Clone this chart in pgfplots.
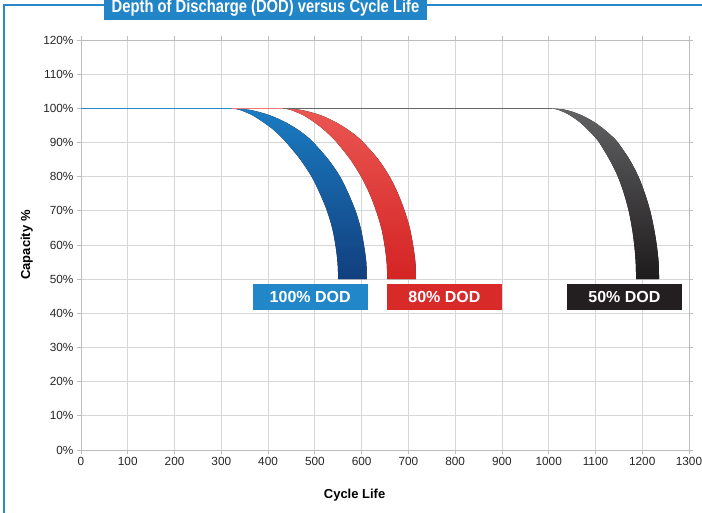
\documentclass[border=0pt]{standalone}
\usepackage{pgfplots}
\pgfplotsset{compat=1.18}
\usepgfplotslibrary{fillbetween}
\usepackage{fontspec}
\setmainfont{Liberation Sans}
\definecolor{frameblue}{HTML}{2A87C8}
\definecolor{titleblue}{HTML}{2185C8}
\definecolor{bluetop}{HTML}{1A7CC2}
\definecolor{bluebot}{HTML}{123F7E}
\definecolor{redtop}{HTML}{EA5652}
\definecolor{redbot}{HTML}{D42424}
\definecolor{blktop}{HTML}{626264}
\definecolor{blkbot}{HTML}{1E1B1C}
\definecolor{boxblue}{HTML}{2187C9}
\definecolor{boxred}{HTML}{D92A2A}
\definecolor{boxblk}{HTML}{231F20}
\definecolor{gridgray}{HTML}{D6D6D6}
\definecolor{axisgray}{HTML}{BDBDBD}
\begin{document}
\begin{tikzpicture}[x=1pt,y=1pt]
% frame and title
\draw[frameblue, line width=1.3pt] (-77,-70) -- (-77,445) -- (640,445);
\fill[titleblue] (23,429.7) rectangle (346,460);
\node[anchor=base, text=white, font=\bfseries\fontsize{18}{18}\selectfont, inner sep=0pt] at (184.5,437.7) {\scalebox{0.82}[1]{Depth of Discharge (DOD) versus Cycle Life}};
\begin{axis}[
  at={(0,0)}, anchor=south west,
  scale only axis, width=608pt, height=410pt,
  xmin=0, xmax=1300, ymin=0, ymax=120,
  xtick={0,100,...,1300}, ytick={0,10,...,120},
  yticklabel={\pgfmathprintnumber{\tick}\%},
  /pgf/number format/assume math mode=true,
  /pgf/number format/1000 sep={},
  grid=major,
  major grid style={gridgray, line width=0.8pt},
  axis line style={axisgray, line width=0.8pt},
  tick align=outside, major tick length=4pt,
  tick style={axisgray, line width=0.8pt},
  tick label style={font=\fontsize{11.8}{13}\selectfont, text=black!85},
  xlabel={Cycle Life}, ylabel={Capacity \%},
  label style={font=\bfseries\fontsize{13}{14}\selectfont},
  xlabel style={at={(axis description cs:0.45,-0.11)}, anchor=center},
  ylabel style={at={(axis description cs:-0.089,0.5)}, anchor=center},
  clip=false,
]
% 100% plateau lines
\addplot[draw=frameblue, line width=1.3pt] coordinates {(0,100) (322,100)};
\addplot[draw=redtop!80, line width=1.3pt] coordinates {(322,100) (432,100)};
\addplot[draw=black!60, line width=1.3pt] coordinates {(432,100) (1006,100)};
% 100% DOD band edges
\addplot[draw=none, smooth, name path=bi] coordinates {
 (322,100) (340,99.5) (366,98) (389,96) (409,94) (425,92) (439,90) (469,85) (493,80) (511,75) (526,70) (537,65) (544,60) (548.5,55) (550,50)};
\addplot[draw=none, smooth, name path=bo] coordinates {
 (322,100) (363,99.5) (403,98) (436,96) (461,94) (481,92) (497,90) (529,85) (554,80) (572,75) (587,70) (598,65) (605,60) (610,55) (611,50)};
\addplot[draw=none, top color=bluetop, bottom color=bluebot] fill between[of=bi and bo];
% 80% DOD band edges
\addplot[draw=none, smooth, name path=ri] coordinates {
 (432,100) (449,99.5) (475,98) (498,96) (517,94) (533,92) (547,90) (576,85) (599,80) (617,75) (631,70) (642,65) (649,60) (653.5,55) (655,50)};
\addplot[draw=none, smooth, name path=ro] coordinates {
 (432,100) (472,99.5) (512,98) (544,96) (568,94) (588,92) (604,90) (636,85) (660,80) (678,75) (692,70) (703,65) (710,60) (715,55) (716,50)};
\addplot[draw=none, top color=redtop, bottom color=redbot] fill between[of=ri and ro];
% 50% DOD band edges
\addplot[draw=none, smooth, name path=ki] coordinates {
 (1006,100) (1022,99.5) (1045,98) (1066,96) (1082,94) (1096,92) (1108,90) (1130,85) (1148,80) (1161,75) (1171,70) (1178,65) (1183,60) (1186,55) (1187,50)};
\addplot[draw=none, smooth, name path=ko] coordinates {
 (1006,100) (1038,99.5) (1070,98) (1097,96) (1117,94) (1134,92) (1148,90) (1173,85) (1192,80) (1206,75) (1217,70) (1225,65) (1231,60) (1235,55) (1236,50)};
\addplot[draw=none, top color=blktop, bottom color=blkbot] fill between[of=ki and ko];
% label boxes
\node[fill=boxblue, text=white, font=\bfseries\fontsize{16}{16}\selectfont, minimum width=115pt, minimum height=26pt, inner sep=0pt] at (axis cs:490,44.8) {100\% DOD};
\node[fill=boxred, text=white, font=\bfseries\fontsize{16}{16}\selectfont, minimum width=115pt, minimum height=26pt, inner sep=0pt] at (axis cs:777,44.8) {80\% DOD};
\node[fill=boxblk, text=white, font=\bfseries\fontsize{16}{16}\selectfont, minimum width=115pt, minimum height=26pt, inner sep=0pt] at (axis cs:1162,44.8) {50\% DOD};
\end{axis}
\pgfresetboundingbox
\useasboundingbox (-81,-62) rectangle (621,450);
\end{tikzpicture}
\end{document}
